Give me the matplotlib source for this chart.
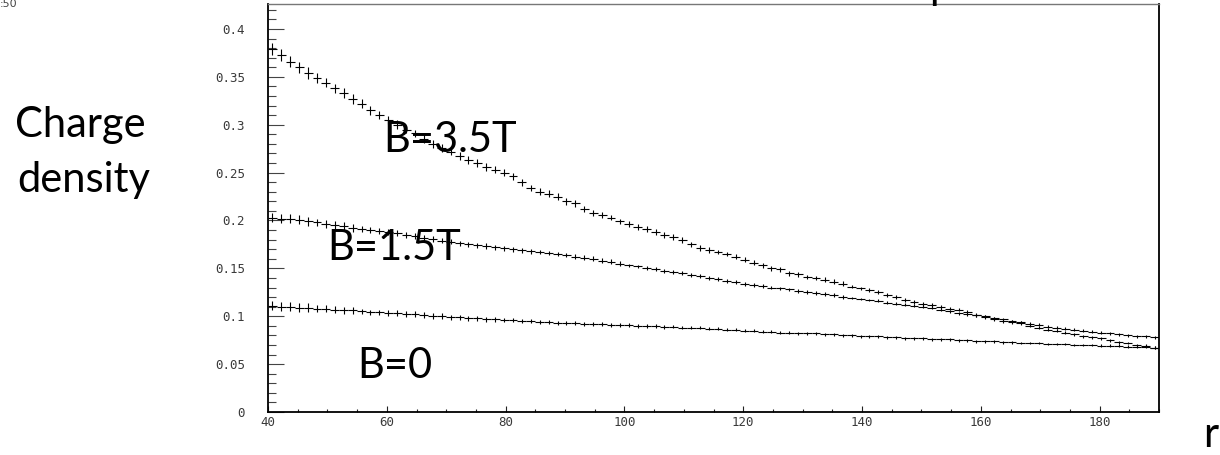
import numpy as np
import matplotlib
matplotlib.use("Agg")
import matplotlib.pyplot as plt
from matplotlib.ticker import MultipleLocator, FixedLocator

# 100 bins of width 1.5 between r = 40 and r = 190
r_lo, r_hi, bin_w = 40.0, 190.0, 1.5

dens_b35 = [
    0.379, 0.373, 0.366, 0.360, 0.354, 0.349, 0.344, 0.338, 0.333, 0.327,
    0.322, 0.315, 0.310, 0.305, 0.300, 0.295, 0.291, 0.285, 0.280, 0.276,
    0.272, 0.267, 0.263, 0.260, 0.256, 0.253, 0.250, 0.246, 0.240, 0.234,
    0.230, 0.228, 0.225, 0.220, 0.218, 0.212, 0.208, 0.206, 0.203, 0.199,
    0.196, 0.193, 0.191, 0.188, 0.185, 0.183, 0.180, 0.175, 0.171, 0.169,
    0.167, 0.165, 0.162, 0.159, 0.156, 0.153, 0.150, 0.149, 0.145, 0.144,
    0.141, 0.140, 0.138, 0.136, 0.134, 0.131, 0.129, 0.127, 0.125, 0.122,
    0.120, 0.117, 0.115, 0.113, 0.112, 0.110, 0.108, 0.107, 0.104, 0.101,
    0.099, 0.097, 0.095, 0.094, 0.093, 0.090, 0.088, 0.086, 0.085, 0.083,
    0.081, 0.079, 0.078, 0.077, 0.075, 0.073, 0.072, 0.070, 0.069, 0.067,
]
dens_b15 = [
    0.203, 0.202, 0.202, 0.201, 0.199, 0.198, 0.196, 0.195, 0.194, 0.192,
    0.191, 0.190, 0.189, 0.188, 0.187, 0.185, 0.184, 0.182, 0.181, 0.179,
    0.178, 0.176, 0.175, 0.174, 0.173, 0.172, 0.171, 0.170, 0.169, 0.168,
    0.167, 0.166, 0.165, 0.164, 0.162, 0.161, 0.160, 0.158, 0.157, 0.155,
    0.153, 0.152, 0.150, 0.149, 0.147, 0.146, 0.145, 0.143, 0.142, 0.140,
    0.139, 0.137, 0.136, 0.134, 0.133, 0.132, 0.130, 0.129, 0.128, 0.126,
    0.125, 0.124, 0.123, 0.122, 0.120, 0.119, 0.118, 0.117, 0.116, 0.114,
    0.113, 0.112, 0.111, 0.110, 0.109, 0.107, 0.105, 0.103, 0.102, 0.101,
    0.100, 0.098, 0.097, 0.095, 0.094, 0.092, 0.091, 0.089, 0.088, 0.087,
    0.086, 0.085, 0.084, 0.083, 0.082, 0.081, 0.080, 0.079, 0.079, 0.078,
]
dens_b0 = [
    0.111, 0.110, 0.110, 0.109, 0.109, 0.108, 0.108, 0.107, 0.106, 0.106,
    0.105, 0.104, 0.104, 0.103, 0.103, 0.102, 0.102, 0.101, 0.100, 0.100,
    0.099, 0.099, 0.098, 0.098, 0.097, 0.097, 0.096, 0.096, 0.095, 0.095,
    0.094, 0.094, 0.093, 0.093, 0.093, 0.092, 0.092, 0.092, 0.091, 0.091,
    0.091, 0.090, 0.090, 0.090, 0.089, 0.089, 0.088, 0.088, 0.088, 0.087,
    0.087, 0.086, 0.086, 0.085, 0.085, 0.084, 0.084, 0.083, 0.083, 0.082,
    0.082, 0.082, 0.081, 0.081, 0.080, 0.080, 0.079, 0.079, 0.079, 0.078,
    0.078, 0.077, 0.077, 0.077, 0.076, 0.076, 0.076, 0.075, 0.075, 0.074,
    0.074, 0.074, 0.073, 0.073, 0.072, 0.072, 0.072, 0.071, 0.071, 0.071,
    0.070, 0.070, 0.070, 0.069, 0.069, 0.069, 0.068, 0.068, 0.068, 0.067,
]

# error bar half-heights, one value per block of 5 bins
err_b35 = [0.006, 0.005, 0.0045, 0.004, 0.004, 0.0035, 0.0035, 0.003, 0.003, 0.003,
           0.0025, 0.0025, 0.0025, 0.002, 0.002, 0.002, 0.002, 0.0015, 0.0015, 0.0015]
err_b15 = [0.005, 0.004, 0.0035, 0.003, 0.003, 0.0025, 0.0025, 0.0025, 0.002, 0.002,
           0.002, 0.002, 0.002, 0.0015, 0.0015, 0.0015, 0.0015, 0.0015, 0.0015, 0.0015]
err_b0 = [0.005, 0.004, 0.003, 0.003, 0.0025, 0.0025, 0.002, 0.002, 0.002, 0.0015,
          0.0015, 0.0015, 0.0015, 0.0015, 0.0015, 0.0015, 0.0015, 0.0015, 0.0015, 0.0015]

ytick_vals = [0, 0.05, 0.1, 0.15, 0.2, 0.25, 0.3, 0.35, 0.4]
ytick_labels = ["0", "0.05", "0.1", "0.15", "0.2", "0.25", "0.3", "0.35", "0.4"]
xtick_vals = [40, 60, 80, 100, 120, 140, 160, 180]

W, H = 1220, 455
fig = plt.figure(figsize=(W / 100, H / 100), dpi=100)
fig.patch.set_facecolor("white")

def px(x, y):
    # pixel position (from top-left) -> figure fraction
    return x / W, 1 - y / H

ax = fig.add_axes([268 / W, 43 / H, 891 / W, 408.5 / H])

centers = r_lo + bin_w / 2 + bin_w * np.arange(len(dens_b35))
for dens, err in [(dens_b35, err_b35), (dens_b15, err_b15), (dens_b0, err_b0)]:
    ax.errorbar(centers, dens, xerr=bin_w / 2, yerr=np.repeat(err, 5),
                fmt="none", ecolor="black", elinewidth=0.8, capsize=0)

ax.set_xlim(r_lo, r_hi)
ax.set_ylim(0, 0.4266)

ax.yaxis.set_major_locator(FixedLocator(ytick_vals))
ax.set_yticklabels(ytick_labels)
ax.yaxis.set_minor_locator(MultipleLocator(0.01))
ax.xaxis.set_major_locator(FixedLocator(xtick_vals))
ax.set_xticklabels([str(v) for v in xtick_vals])
ax.xaxis.set_minor_locator(MultipleLocator(5))

tick_font = {"family": "DejaVu Sans Mono", "size": 9}
for lab in ax.get_xticklabels() + ax.get_yticklabels():
    lab.set_fontfamily(tick_font["family"])
    lab.set_fontsize(tick_font["size"])
    lab.set_color("#3a3a3a")

ax.tick_params(axis="y", which="major", direction="in", length=11.5, width=0.8,
               color="#444444", pad=16.5)
ax.tick_params(axis="y", which="minor", direction="in", length=5.8, width=0.8,
               color="#444444")
ax.tick_params(axis="x", which="major", direction="in", length=4.3, width=0.8,
               color="#222222", pad=3.0)
ax.tick_params(axis="x", which="minor", direction="in", length=2.5, width=0.8,
               color="#222222")

for side in ["left", "bottom", "right"]:
    ax.spines[side].set_color("black")
    ax.spines[side].set_linewidth(1.3)
ax.spines["top"].set_color("#777777")
ax.spines["top"].set_linewidth(1.0)

slide_font = dict(family=["Lato", "DejaVu Sans"], fontsize=30, color="black",
                  va="baseline", ha="left")
fig.text(*px(383, 152), "B=3.5T", **slide_font)
fig.text(*px(327, 260), "B=1.5T", **slide_font)
fig.text(*px(357, 378), "B=0", **slide_font)
fig.text(*px(15, 137), "Charge", **slide_font)
fig.text(*px(17, 192), "density", **slide_font)
fig.text(*px(1203, 447), "r", **slide_font)

# bits of the slide cut off at the top edge
fig.text(*px(0, 7), ":50", fontsize=8, color="#444444", va="baseline", ha="left")
fig.text(*px(929, -1), "p", **slide_font)

fig.savefig("out.png", dpi=100)
